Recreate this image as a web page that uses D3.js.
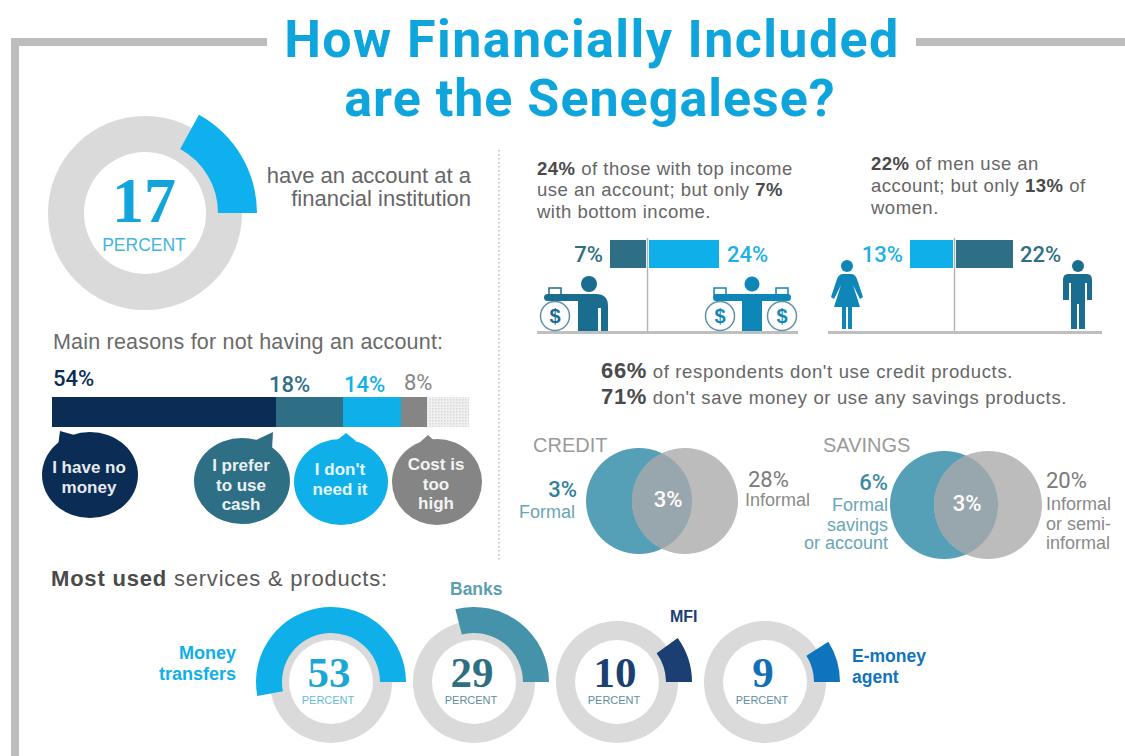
<!DOCTYPE html>
<html>
<head>
<meta charset="utf-8">
<script src="https://d3js.org/d3.v7.min.js"></script>
<style>
body { margin: 0; background: #fff; }
svg { display: block; }
text { font-family: "Liberation Sans", Arial, sans-serif; }
.din { font-family: Roboto, sans-serif; }
.num { font-family: "Liberation Serif", serif; font-weight: bold; }
</style>
</head>
<body>
<div id="chart"></div>
<script>
// headline donut
var accountShare = 17;

// reasons for not having an account (last stop is the unlabelled rest)
var reasonNames = ["I have no money", "I prefer to use cash", "I don't need it", "Cost is too high"];
var reasonValues = [54, 18, 14, 8];
var reasonColors = ["#0b2d55", "#2f6f86", "#0fb0ea", "#858585"];

// the bars in the picture are not to scale so the scales below are piecewise
var incomeValues = [7, 24];
var genderValues = [13, 22];

// venn numbers
var creditValues = [3, 3, 28];
var savingsValues = [6, 3, 20];

// most used services
var serviceNames = ["Money transfers", "Banks", "MFI", "E-money agent"];
var serviceValues = [53, 29, 10, 9];
var serviceColors = ["#0fb0ea", "#4593ab", "#1b3f73", "#0f74bd"];
var serviceNumColors = ["#1aa7d6", "#2e6f82", "#1b3f73", "#1170b5"];

var width = 1125;
var height = 756;
var svg = d3.select("#chart").append("svg").attr("width", width).attr("height", height);

var grey = "#bdbdbd";
var ringGrey = "#dadada";
var bodyText = "#666";
var iconBlue = "#1a6d8e";
var iconBright = "#0e86b8";

function label(x, y, str, size, color, opts) {
  opts = opts || {};
  return svg.append("text")
    .attr("x", x).attr("y", y)
    .attr("class", opts.cls || null)
    .attr("text-anchor", opts.anchor || "start")
    .attr("font-size", size)
    .attr("font-weight", opts.weight || "normal")
    .attr("letter-spacing", opts.ls || 0)
    .attr("fill", color)
    .text(str);
}

// one line of text with some bold runs, parts = [[text, bold, size], ...]
function rich(x, y, parts, size, color, ls) {
  var t = svg.append("text").attr("x", x).attr("y", y).attr("font-size", size)
    .attr("letter-spacing", ls || 0).attr("fill", color);
  parts.forEach(function(p) {
    t.append("tspan")
      .attr("font-weight", p[1] ? "bold" : "normal")
      .attr("font-size", p[2] || size)
      .attr("fill", p[1] ? "#4a4a4a" : color)
      .text(p[0]);
  });
}

// frame and title
svg.append("rect").attr("x", 11).attr("y", 38).attr("width", 256).attr("height", 8).attr("fill", grey);
svg.append("rect").attr("x", 916).attr("y", 38).attr("width", 209).attr("height", 8).attr("fill", grey);
svg.append("rect").attr("x", 11).attr("y", 38).attr("width", 8).attr("height", 718).attr("fill", grey);
label(592, 57, "How Financially Included", 52, "#0ea5dc", {cls: "din", anchor: "middle", weight: 700, ls: 1.4});
label(590, 116, "are the Senegalese?", 52, "#0ea5dc", {cls: "din", anchor: "middle", weight: 700, ls: 1});

// dotted divider
svg.append("line").attr("x1", 499).attr("x2", 499).attr("y1", 150).attr("y2", 562)
  .attr("stroke", "#bbb").attr("stroke-width", 1.5).attr("stroke-dasharray", "1.5 2.5");

// donuts
var angle = d3.scaleLinear().domain([0, 100]).range([0, 2 * Math.PI]);

function donut(cx, cy, value, color, r) {
  var g = svg.append("g").attr("transform", "translate(" + cx + "," + cy + ")");
  g.append("path")
    .attr("fill", ringGrey)
    .attr("d", d3.arc()({innerRadius: r[0], outerRadius: r[1], startAngle: 0, endAngle: 2 * Math.PI}));
  g.append("path")
    .attr("fill", color)
    .attr("d", d3.arc()({
      innerRadius: r[2], outerRadius: r[3],
      startAngle: Math.PI / 2 - angle(value),
      endAngle: Math.PI / 2
    }));
}

donut(145, 213, accountShare, "#0fb0ee", [61, 97, 73, 112]);
label(144, 222, accountShare, 64, "#12a5dc", {cls: "num", anchor: "middle"});
label(144, 251, "PERCENT", 17.5, "#45b4dc", {anchor: "middle"});
label(471, 183, "have an account at a", 22, bodyText, {anchor: "end"});
label(471, 206, "financial institution", 22, bodyText, {anchor: "end"});

// reasons stacked bar
label(53, 349, "Main reasons for not having an account:", 21.5, "#6a6a6a", {ls: 0.2});

var reasonScale = d3.scaleLinear().domain([0, 54, 72, 86, 94, 100]).range([52, 276, 343, 401, 427, 469]);
var stacked = [];
var running = 0;
reasonValues.forEach(function(v, i) {
  stacked.push({start: running, end: running + v, color: reasonColors[i]});
  running += v;
});

svg.append("defs").append("pattern")
  .attr("id", "hatch").attr("width", 3).attr("height", 3).attr("patternUnits", "userSpaceOnUse")
  .call(function(p) {
    p.append("rect").attr("width", 3).attr("height", 3).attr("fill", "#f0f0f0");
    p.append("rect").attr("width", 1.5).attr("height", 1.5).attr("fill", "#d8d8d8");
  });

svg.append("rect")
  .attr("x", reasonScale(running)).attr("y", 397)
  .attr("width", reasonScale(100) - reasonScale(running)).attr("height", 30)
  .attr("fill", "url(#hatch)");

svg.selectAll(".seg").data(stacked).enter().append("rect")
  .attr("class", "seg")
  .attr("x", function(d) { return reasonScale(d.start); })
  .attr("y", 397)
  .attr("width", function(d) { return reasonScale(d.end) - reasonScale(d.start); })
  .attr("height", 30)
  .attr("fill", function(d) { return d.color; });

var reasonLabelX = [53, 269, 344, 404];
var reasonLabelY = [386, 392, 392, 390];
reasonValues.forEach(function(v, i) {
  label(reasonLabelX[i], reasonLabelY[i], v + "%", 22, reasonColors[i], {cls: "din", weight: i < 3 ? 500 : 400});
});

// speech bubbles under the bar
var bubbleX = [90, 242, 341, 437];
var bubbleY = [475, 481, 482, 482];
var bubbleRx = [48, 48, 47, 45];
var bubbleTail = [[60, 431, 58, 446, 78, 436], [273, 432, 254, 441, 272, 450], [346, 433, 336, 441, 356, 441], [428, 435, 418, 444, 438, 444]];
var bubbleLines = [["I have no", "money"], ["I prefer", "to use", "cash"], ["I don't", "need it"], ["Cost is", "too", "high"]];
var bubbleTextY = [473, 471, 475, 470];

reasonNames.forEach(function(name, i) {
  svg.append("ellipse")
    .attr("cx", bubbleX[i]).attr("cy", bubbleY[i]).attr("rx", bubbleRx[i]).attr("ry", 43)
    .attr("fill", reasonColors[i]);
  svg.append("path")
    .attr("d", "M" + bubbleTail[i].slice(0, 2) + "L" + bubbleTail[i].slice(2, 4) + "L" + bubbleTail[i].slice(4, 6) + "Z")
    .attr("fill", reasonColors[i]);
  bubbleLines[i].forEach(function(line, j) {
    label(bubbleX[i] - 1, bubbleTextY[i] + j * 19.5, line, 17, "#fff", {anchor: "middle", weight: "bold"})
      .attr("opacity", 0.9);
  });
});

// income and gender comparison bars
rich(537, 175, [["24%", true], [" of those with top income"]], 18.5, bodyText, 0.5);
rich(537, 196, [["use an account; but only "], ["7%", true]], 18.5, bodyText, 0.5);
rich(537, 218, [["with bottom income."]], 18.5, bodyText, 0.5);
rich(871, 170, [["22%", true], [" of men use an"]], 18.5, bodyText, 0.5);
rich(871, 192, [["account; but only "], ["13%", true], [" of"]], 18.5, bodyText, 0.5);
rich(871, 214, [["women."]], 18.5, bodyText, 0.5);

var incomeLen = d3.scaleLinear().domain([0, 7, 24]).range([0, 36, 70]);
var genderLen = d3.scaleLinear().domain([0, 13, 22]).range([0, 43, 57]);

function splitBar(cx, values, len, leftColor, rightColor) {
  svg.append("rect").attr("x", cx - 1 - len(values[0])).attr("y", 240)
    .attr("width", len(values[0])).attr("height", 28).attr("fill", leftColor);
  svg.append("rect").attr("x", cx + 2).attr("y", 240)
    .attr("width", len(values[1])).attr("height", 28).attr("fill", rightColor);
  svg.append("line").attr("x1", cx + 0.5).attr("x2", cx + 0.5).attr("y1", 238).attr("y2", 332)
    .attr("stroke", "#b5b5b5").attr("stroke-width", 1.5);
}
splitBar(647, incomeValues, incomeLen, "#2f6f86", "#0fb0ea");
splitBar(954, genderValues, genderLen, "#0fb0ea", "#2f6f86");

label(603, 262, incomeValues[0] + "%", 22, "#2f6f86", {cls: "din", anchor: "end", weight: 500});
label(727, 262, incomeValues[1] + "%", 22, "#1cb0e6", {cls: "din", weight: 500});
label(903, 262, genderValues[0] + "%", 22, "#1cb0e6", {cls: "din", anchor: "end", weight: 500});
label(1020, 262, genderValues[1] + "%", 22, "#2f6f86", {cls: "din", weight: 500});

svg.append("rect").attr("x", 537).attr("y", 331).attr("width", 261).attr("height", 3).attr("fill", "#bfbfbf");
svg.append("rect").attr("x", 828).attr("y", 331).attr("width", 274).attr("height", 3).attr("fill", "#bfbfbf");

// icons
function moneyBag(cx, color) {
  svg.append("rect").attr("x", cx - 6).attr("y", 288).attr("width", 12).attr("height", 7)
    .attr("fill", "none").attr("stroke", color).attr("stroke-width", 1.5);
  svg.append("circle").attr("cx", cx).attr("cy", 316).attr("r", 14.5)
    .attr("fill", "#fff").attr("stroke", "#5f93a5").attr("stroke-width", 1.5);
  label(cx, 323, "$", 20, color, {anchor: "middle", weight: "bold"});
}
function icon(d, color) { svg.append("path").attr("d", d).attr("fill", color); }

// bottom income person, one bag
svg.append("circle").attr("cx", 589).attr("cy", 284).attr("r", 8).attr("fill", iconBlue);
icon("M548 294H596Q608 294 608 306V331H601V308H598V331H578V301H548Q544 301 544 297.5Q544 294 548 294Z", iconBlue);
moneyBag(555, iconBlue);

// top income person, two bags
svg.append("circle").attr("cx", 752).attr("cy", 284).attr("r", 7.5).attr("fill", iconBright);
icon("M716 294H788Q791 294 791 297.5Q791 301 788 301H762V331H742V301H716Q713 301 713 297.5Q713 294 716 294Z", iconBright);
moneyBag(720, iconBright);
moneyBag(782, iconBright);

// woman
svg.append("circle").attr("cx", 847).attr("cy", 266).attr("r", 6).attr("fill", iconBright);
icon("M843 274H851Q855 274 857 279L863 297L860 299L853 285L860 307H852V329H848V307H846V329H842V307H834L841 285L834 299L831 297L837 279Q839 274 843 274Z", iconBright);
// man
svg.append("circle").attr("cx", 1078).attr("cy", 266).attr("r", 6).attr("fill", iconBlue);
icon("M1068 274H1087Q1092 274 1092 280V300H1087V283H1085V329H1079V304H1077V329H1071V283H1069V300H1063V280Q1063 274 1068 274Z", iconBlue);

// credit and savings text
rich(601, 378, [["66%", true, 22], [" of respondents don't use credit products."]], 18.5, bodyText, 0.65);
rich(601, 404, [["71%", true, 22], [" don't save money or use any savings products."]], 18.5, bodyText, 0.65);

// venns
function venn(lx, rx, cy, r) {
  svg.append("circle").attr("cx", lx).attr("cy", cy).attr("r", r).attr("fill", "#559fb7");
  svg.append("circle").attr("cx", rx).attr("cy", cy).attr("r", r).attr("fill", "#bcbcbc");
  var id = "clip" + lx;
  svg.append("clipPath").attr("id", id).append("circle").attr("cx", lx).attr("cy", cy).attr("r", r);
  svg.append("circle").attr("cx", rx).attr("cy", cy).attr("r", r).attr("fill", "#98a6ad").attr("clip-path", "url(#" + id + ")");
}
venn(639, 685, 501, 53);
venn(944, 988, 505, 54);

label(533, 452, "CREDIT", 20, "#9a9a9a");
label(823, 452, "SAVINGS", 20, "#9a9a9a");

label(577, 497, creditValues[0] + "%", 22, "#2f8098", {cls: "din", anchor: "end", weight: 500});
label(575, 518, "Formal", 18, "#6aa5b7", {anchor: "end"});
label(668, 507, creditValues[1] + "%", 22, "#fff", {cls: "din", anchor: "middle", weight: 500});
label(748, 487, creditValues[2] + "%", 22, "#7a7a7a", {cls: "din"});
label(745, 506, "Informal", 18, "#8a8a8a");

label(888, 490, savingsValues[0] + "%", 22, "#3c8ba3", {cls: "din", anchor: "end", weight: 500});
["Formal", "savings", "or account"].forEach(function(s, i) {
  label(888, [511, 531, 549][i], s, 18, "#6aa5b7", {anchor: "end"});
});
label(967, 511, savingsValues[1] + "%", 22, "#fff", {cls: "din", anchor: "middle", weight: 500});
label(1046, 488, savingsValues[2] + "%", 22, "#7a7a7a", {cls: "din"});
["Informal", "or semi-", "informal"].forEach(function(s, i) {
  label(1046, [510, 530, 549][i], s, 18, "#8a8a8a");
});

// most used services
rich(51, 586, [["Most used", true], [" services & products:"]], 22, "#5a5a5a", 0.8);

var serviceX = [331, 474, 617, 765];
serviceValues.forEach(function(v, i) {
  donut(serviceX[i], 682, v, serviceColors[i], [42, 61, 49, 75]);
  label(serviceX[i] - 2, 687, v, 43, serviceNumColors[i], {cls: "num", anchor: "middle"});
  label(serviceX[i] - 3, 704, "PERCENT", 11, i == 0 ? "#62bcdc" : "#5d8ea0", {anchor: "middle"});
});

var serviceLabelX = [236, 450, 670, 852];
var serviceAnchor = ["end", "start", "start", "start"];
var serviceLines = [["Money", "transfers"], ["Banks"], ["MFI"], ["E-money", "agent"]];
var serviceLabelY = [659, 595, 622, 662];
var serviceLabelSize = [18, 17.5, 16, 17.5];
serviceNames.forEach(function(name, i) {
  serviceLines[i].forEach(function(line, j) {
    label(serviceLabelX[i], serviceLabelY[i] + j * 21, line, serviceLabelSize[i], i == 1 ? "#5e9db3" : serviceColors[i], {anchor: serviceAnchor[i], weight: "bold"});
  });
});
</script>
</body>
</html>
